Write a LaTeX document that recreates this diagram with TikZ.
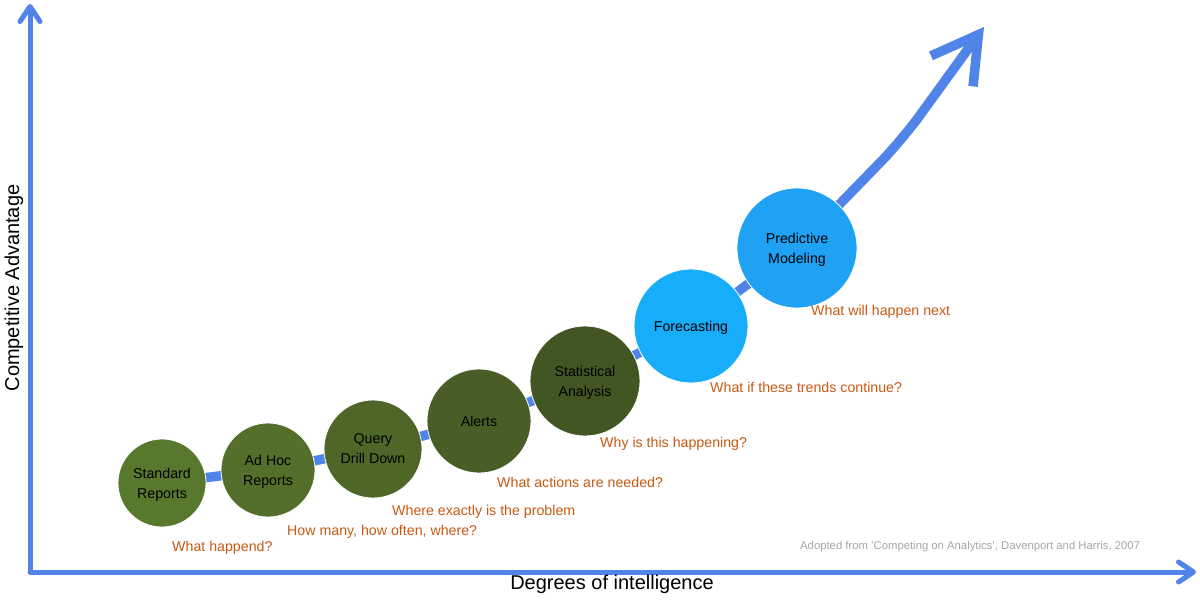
\documentclass[tikz,border=0pt]{standalone}
\usepackage{fontspec}
\setmainfont{Liberation Sans}
\usetikzlibrary{arrows.meta,positioning}
\pgfdeclarelayer{background}
\pgfsetlayers{background,main}
\tikzset{
  every node/.append style={font=\fontsize{14.2}{20}\selectfont},
}

\begin{document}
\begin{tikzpicture}[
    x=1pt, y=-1pt,
    stage/.style={
        circle,
        draw=white,
        line width=0.8pt,
        inner sep=0pt,
        text depth=0pt,
        align=center,
        text=black
    },
    question/.style={
        anchor=base west,
        inner sep=0pt,
        text=questionorange
    },
    axis/.style={
        line width=5pt,
        draw=trendblue,
        line cap=round,
        -{Straight Barb[round, length=15pt, width=20pt]}
    },
    trend/.style={
        line width=9.5pt,
        draw=trendblue,
        line join=round,
        rounded corners=30pt,
        -{Straight Barb[length=45pt, width=52pt]}
    },
    axislabel/.style={font=\fontsize{20}{24}\selectfont}
]
% Color definitions
\definecolor{trendblue}{RGB}{80,132,232}
\definecolor{questionorange}{RGB}{200,88,18}
\definecolor{stdgreen}{RGB}{88,120,46}
\definecolor{adhocgreen}{RGB}{83,111,43}
\definecolor{querygreen}{RGB}{78,102,40}
\definecolor{alertsgreen}{RGB}{73,94,38}
\definecolor{statgreen}{RGB}{65,86,34}
\definecolor{fcastblue}{RGB}{24,173,250}
\definecolor{predblue}{RGB}{31,161,244}
\definecolor{captiongray}{RGB}{165,165,165}

\useasboundingbox (0,0) rectangle (1200,600);

% Axes
\coordinate (origin) at (30,572);
\coordinate (ytop) at (30,4);
\coordinate (xend) at (1196,572);
\draw[axis] (origin) -- (ytop);
\draw[axis] (origin) -- (xend);
\node[axislabel] (xlabel) at (612,584) {Degrees of intelligence};
\node[axislabel, rotate=90] (ylabel) at (14,288) {Competitive Advantage};

% Stages
\node[stage, minimum size=88, fill=stdgreen] (std) at (162,483) {Standard\\Reports};
\node[stage, minimum size=94, fill=adhocgreen] (adhoc) at (268,470) {Ad Hoc\\Reports};
\node[stage, minimum size=98, fill=querygreen] (query) at (373,449) {Query\\Drill Down};
\node[stage, minimum size=104, fill=alertsgreen] (alerts) at (479,421) {Alerts};
\node[stage, minimum size=110, fill=statgreen] (stat) at (585,381) {Statistical\\Analysis};
\node[stage, minimum size=114, fill=fcastblue] (fcast) at (691,326) {Forecasting};
\node[stage, minimum size=120, fill=predblue] (pred) at (797,248) {Predictive\\Modeling};

% Trend line
\coordinate (bend) at (902,140);
\coordinate (tip) at (984,27);
\begin{pgfonlayer}{background}
\draw[trend] (std.center) -- (adhoc.center) -- (query.center) -- (alerts.center)
    -- (stat.center) -- (fcast.center) -- (pred.center) -- (bend) -- (tip);
\end{pgfonlayer}

% Questions
\node[question] (q1) at (172,551) {What happend?};
\node[question] (q2) at (287,535) {How many, how often, where?};
\node[question] (q3) at (392,515) {Where exactly is the problem};
\node[question] (q4) at (497,487) {What actions are needed?};
\node[question] (q5) at (600,447) {Why is this happening?};
\node[question] (q6) at (710,392) {What if these trends continue?};
\node[question] (q7) at (811,315) {What will happen next};

% Source
\node[anchor=base west, inner sep=0pt, text=captiongray, font=\fontsize{11.3}{13}\selectfont] (source) at (800,549)
    {Adopted from 'Competing on Analytics', Davenport and Harris, 2007};
\end{tikzpicture}
\end{document}
